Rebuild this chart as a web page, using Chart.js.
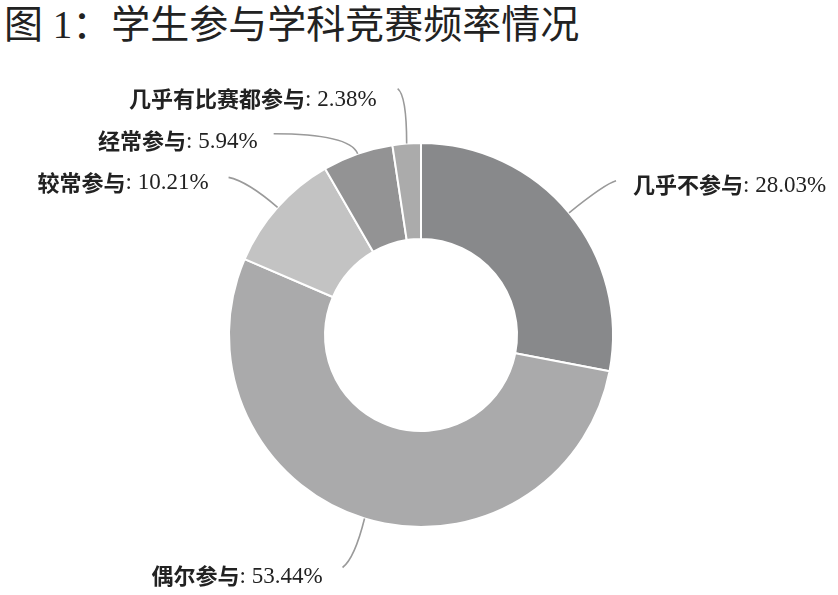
<!DOCTYPE html>
<html>
<head>
<meta charset="utf-8">
<script src="https://cdn.jsdelivr.net/npm/chart.js@4.4.0/dist/chart.umd.min.js"></script>
<style>
  html, body { margin: 0; padding: 0; background: #fff; }
  #wrap { position: relative; width: 838px; height: 595px; }
  #title { position: absolute; left: 4px; top: 5px; font-family: "Liberation Serif", "Noto Sans CJK SC", serif; font-size: 39px; line-height: 39px; color: #222; white-space: pre; }
  canvas { position: absolute; left: 0; top: 0; }
</style>
</head>
<body>
<div id="wrap">
  <div id="title">图 1：学生参与学科竞赛频率情况</div>
  <canvas id="c" width="838" height="595"></canvas>
</div>
<script>
// Data
const categories = ["几乎不参与", "偶尔参与", "较常参与", "经常参与", "几乎有比赛都参与"];
const values = [28.03, 53.44, 10.21, 5.94, 2.38];
const valueLabels = ["28.03%", "53.44%", "10.21%", "5.94%", "2.38%"];

// Styles
const sliceColors = ["#88898b", "#aaaaab", "#c3c3c3", "#939394", "#ababab"];
// leader line geometry relative to each arc's outer anchor: [endDx, endDy, ctrlDx, ctrlDy, textSide, textGap, textDy]
const leaderStyle = [
  [47, -32, 36, -29, 1, 17, 4],
  [-22, 49, -10, 40, -1, 20, 8],
  [-49, -30, -30, -26, -1, 20, 5],
  [-84, -20, -8, -20, -1, 16, 7],
  [-9, -55, 0, -48, -1, 21, 10]
];
const cjkFont = 'bold 22px "Noto Sans CJK SC", sans-serif';
const latinFont = 'normal 23px "Liberation Serif", serif';

const leaderPlugin = {
  id: 'leaders',
  afterDatasetsDraw(chart) {
    const ctx = chart.ctx;
    const meta = chart.getDatasetMeta(0);
    meta.data.forEach((arc, i) => {
      const p = arc.getProps(['x', 'y', 'startAngle', 'endAngle', 'outerRadius'], true);
      const mid = (p.startAngle + p.endAngle) / 2;
      const ax = p.x + Math.cos(mid) * p.outerRadius;
      const ay = p.y + Math.sin(mid) * p.outerRadius;
      const s = leaderStyle[i];
      const ex = ax + s[0], ey = ay + s[1];
      const cx = ax + s[2], cy = ay + s[3];
      ctx.save();
      ctx.strokeStyle = '#9a9a9a';
      ctx.lineWidth = 1.6;
      ctx.beginPath();
      ctx.moveTo(ax, ay);
      ctx.quadraticCurveTo(cx, cy, ex, ey);
      ctx.stroke();
      ctx.fillStyle = '#222';
      ctx.textBaseline = 'middle';
      ctx.textAlign = 'left';
      const part1 = categories[i];
      const part2 = ': ' + valueLabels[i];
      ctx.font = cjkFont;
      const w1 = ctx.measureText(part1).width;
      ctx.font = latinFont;
      const w2 = ctx.measureText(part2).width;
      const tx = s[4] > 0 ? ex + s[5] : ex - s[5] - w1 - w2;
      const ty = ey + s[6];
      ctx.font = cjkFont;
      ctx.fillText(part1, tx, ty);
      ctx.font = latinFont;
      ctx.fillText(part2, tx + w1, ty + 1);
      ctx.restore();
    });
  }
};

new Chart(document.getElementById('c'), {
  type: 'doughnut',
  data: {
    labels: categories,
    datasets: [{
      data: values,
      backgroundColor: sliceColors,
      borderColor: '#ffffff',
      borderWidth: 2
    }]
  },
  options: {
    responsive: false,
    animation: false,
    cutout: '50%',
    layout: { padding: { top: 142, bottom: 67, left: 228, right: 224 } },
    plugins: {
      legend: { display: false },
      tooltip: { enabled: false },
      title: { display: false }
    }
  },
  plugins: [leaderPlugin]
});
</script>
</body>
</html>
